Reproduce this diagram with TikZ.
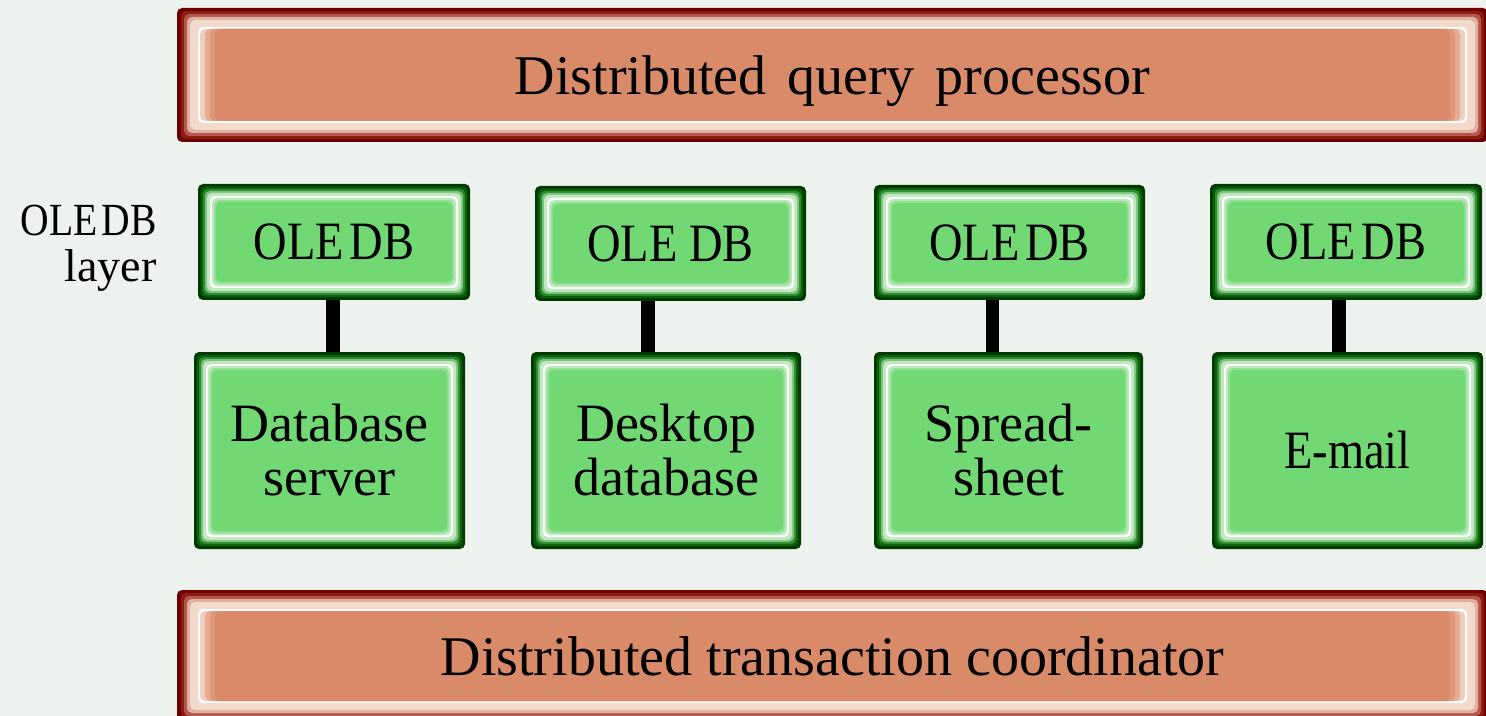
\documentclass[tikz,border=0pt]{standalone}
\usepackage{fontspec}
\setmainfont{Liberation Serif}
\newfontfamily\condfont[FakeStretch=0.86]{Liberation Serif}
\definecolor{bg}{HTML}{EEF2EE}
\definecolor{gfill}{HTML}{72D873}
\definecolor{g0}{HTML}{003C00}
\definecolor{g1}{HTML}{0B5E0B}
\definecolor{g2}{HTML}{2E8A2E}
\definecolor{g3}{HTML}{7CC47C}
\definecolor{g4}{HTML}{C2E8C2}
\definecolor{g6}{HTML}{B9EBBA}
\definecolor{g7}{HTML}{92E094}
\definecolor{r0}{HTML}{6A0000}
\definecolor{r1}{HTML}{8E1A14}
\definecolor{r2}{HTML}{B5574A}
\definecolor{r3}{HTML}{E0B0A0}
\definecolor{r4}{HTML}{F2D9CC}
\definecolor{o6}{HTML}{F0CDBD}
\definecolor{o7}{HTML}{E6AC93}
\definecolor{o8}{HTML}{DE977A}
\definecolor{ofill}{HTML}{D98B69}
\def\greenlayers{0/0/g0, 3/3/g1, 5/5/g2, 7/7/g3, 9/9/g4, 12/12/white, 14/14/g6, 16/16/g7, 18/18/gfill}
\def\orangelayers{0/0/r0, 4/3/r1, 7/6/r2, 10/9/r3, 13/12/r4, 21/19/white, 23/21/o6, 28/21/o7, 33/21/o8, 38/21/ofill}
\newcommand\bevel[5]{%
  \foreach \dx/\dy/\lc in #5 {%
    \fill[\lc, rounded corners=2.5pt] ({#1+\dx},{#2+\dy}) rectangle ({#3-\dx},{#4-\dy});}%
}
\tikzset{
  boxtext/.style={inner sep=0pt, align=center, text=black, font=\fontsize{27}{27}\selectfont},
  bartext/.style={inner sep=0pt, align=center, text=black, text depth=0pt, font=\fontsize{28}{28}\selectfont},
  link/.style={line width=6.75pt, black},
}
\newcommand\gbox[6]{%
  \bevel{#2}{#3}{#4}{#5}{\greenlayers}%
  \node[boxtext, minimum width={(#4-#2)*0.5pt}, minimum height={(#5-#3)*0.5pt}] (#1) at ({(#2+#4)/2},{(#3+#5)/2}) {#6};%
}
\newcommand\obox[6]{%
  \bevel{#2}{#3}{#4}{#5}{\orangelayers}%
  \node[bartext, minimum width={(#4-#2)*0.5pt}, minimum height={(#5-#3)*0.5pt}] (#1) at ({(#2+#4)/2},{(#3+#5)/2}) {#6};%
}
\begin{document}
\begin{tikzpicture}[x=0.5pt, y=-0.5pt]
\useasboundingbox (0,0) rectangle (1486,716);
\clip (0,0) rectangle (1486,716);
\fill[bg] (0,0) rectangle (1486,716);

\obox{dqp}{177}{8}{1488}{142}{Distributed\hspace{0.12em} query\hspace{0.12em} processor}
\obox{dtc}{177}{590}{1488}{722}{Distributed transaction coordinator}

\gbox{o1}{198}{184}{470}{300}{\condfont OLE\kern3pt DB}
\gbox{o2}{535}{186}{806}{301}{\condfont OLE DB}
\gbox{o3}{874}{185}{1145}{300}{\condfont OLE\kern3pt DB}
\gbox{o4}{1210}{184}{1482}{300}{\condfont OLE\kern3pt DB}

\gbox{d1}{194}{352}{465}{549}{Database\\server}
\gbox{d2}{531}{352}{801}{549}{Desktop\\database}
\gbox{d3}{874}{352}{1143}{549}{Spread-\\sheet}
\gbox{d4}{1212}{352}{1483}{549}{\condfont E-mail}

\draw[link] ([xshift=-0.5pt]o1.south) -- ([xshift=-0.5pt]o1.south |- d1.north);
\draw[link] ([xshift=-11.25pt]o2.south) -- ([xshift=-11.25pt]o2.south |- d2.north);
\draw[link] ([xshift=-8.5pt]o3.south) -- ([xshift=-8.5pt]o3.south |- d3.north);
\draw[link] ([xshift=-3.5pt]o4.south) -- ([xshift=-3.5pt]o4.south |- d4.north);

\node[inner sep=0pt, align=right, anchor=north east, text=black, font=\fontsize{23}{23}\selectfont] (lbl) at (157,205) {{\condfont OLE\kern2pt DB}\\layer};
\end{tikzpicture}
\end{document}
